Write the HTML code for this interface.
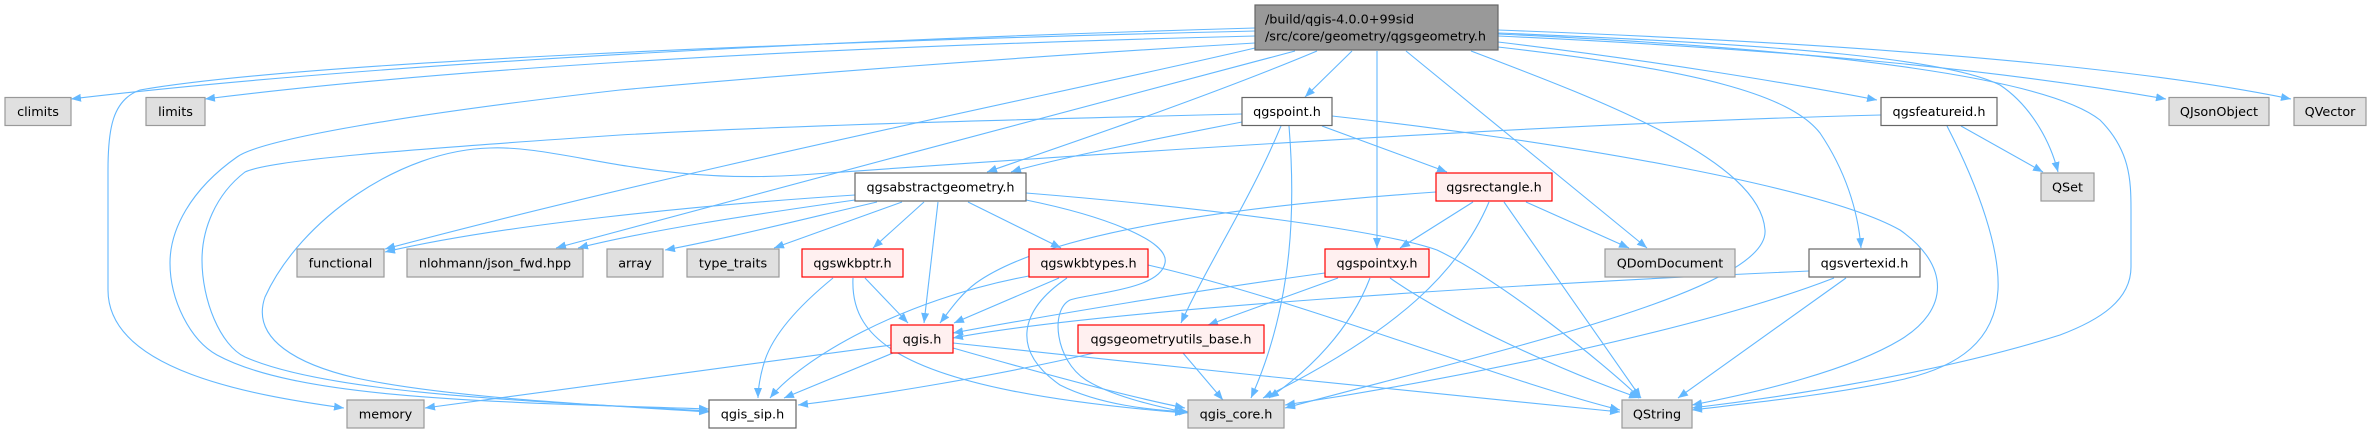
<!DOCTYPE html>
<html><head><meta charset="utf-8"><style>
html,body{margin:0;padding:0;background:#fff;}
svg{display:block;}
text{font-family:"DejaVu Sans","Liberation Sans",sans-serif;font-size:12.8px;fill:#000;}
.e{fill:none;stroke:#63b8ff;stroke-width:1.1;marker-end:url(#a);}
.g{fill:#e0e0e0;stroke:#999999;stroke-width:1.2;}
.w{fill:#ffffff;stroke:#666666;stroke-width:1.2;}
.r{fill:#fff0f0;stroke:#ff0000;stroke-width:1.2;}
.t{fill:#999999;stroke:#666666;stroke-width:1.2;}
</style></head><body>
<svg width="2372" height="434" viewBox="0 0 2372 434" xmlns="http://www.w3.org/2000/svg">
<defs>
<marker id="a" markerUnits="userSpaceOnUse" markerWidth="11" markerHeight="8" refX="10" refY="4" orient="auto">
<path d="M0,0 L10,4 L0,8 z" fill="#63b8ff"/>
</marker>
</defs>

<!-- edges from top node -->
<path class="e" d="M1255,28 C900,38 400,60 71,99"/>
<path class="e" d="M1255,36 C900,45 500,62 205,99"/>
<path class="e" d="M1255,31 C800,42 300,62 140,90 C112,100 108,130 108,170 L108,290 C108,370 250,395 344,408"/>
<path class="e" d="M1255,43 C1000,58 750,78 620,90 C400,115 260,140 237,157 C190,190 170,230 170,263 C170,300 190,340 217,355 C300,400 500,402 709,409"/>
<path class="e" d="M1255,48 C1100,85 700,165 385,249"/>
<path class="e" d="M1295,51 C1150,90 750,195 556,248"/>
<path class="e" d="M1317,51 C1200,100 1050,150 987,172"/>
<path class="e" d="M1352,51 L1305,97"/>
<path class="e" d="M1377,51 L1377,248"/>
<path class="e" d="M1406,51 L1647,248"/>
<path class="e" d="M1471,51 C1600,100 1760,160 1765,230 C1770,290 1500,350 1285,408"/>
<path class="e" d="M1498,42 C1650,60 1800,85 1877,100"/>
<path class="e" d="M1498,36 C1800,50 2000,70 2166,99"/>
<path class="e" d="M1498,30 C1900,45 2150,70 2291,99"/>
<path class="e" d="M1498,33 C1800,45 1950,60 2000,85 C2030,105 2050,140 2058,172"/>
<path class="e" d="M1498,34 C1850,50 2050,80 2100,120 C2130,150 2131,180 2131,210 L2131,267 C2131,300 2100,320 2060,335 C1950,370 1800,395 1692,408"/>
<path class="e" d="M1498,47 C1700,70 1790,95 1820,133 C1845,170 1858,210 1861,248"/>

<!-- qgspoint.h -->
<path class="e" d="M1242,114 C1000,120 800,125 620,135 C400,150 270,160 245,172 C215,195 202,230 202,260 C202,300 220,345 245,357 C330,395 550,402 709,411"/>
<path class="e" d="M1242,122 C1150,140 1050,160 1011,172"/>
<path class="e" d="M1322,126 L1447,172"/>
<path class="e" d="M1281,126 C1250,200 1210,260 1181,323"/>
<path class="e" d="M1289,126 C1295,200 1295,300 1251,398"/>
<path class="e" d="M1332,116 C1550,140 1820,185 1900,230 C1950,265 1950,310 1900,340 C1850,370 1760,392 1692,405"/>

<!-- qgsfeatureid.h -->
<path class="e" d="M1881,115 C1600,122 1220,145 800,175 C650,185 560,145 490,148 C400,150 300,220 265,297 C250,340 300,365 356,378 C450,398 600,405 709,412"/>
<path class="e" d="M1961,126 L2043,172"/>
<path class="e" d="M1947,126 C1980,190 2000,250 1998,290 C1995,340 1960,367 1900,380 C1830,395 1750,403 1692,410"/>

<!-- qgsabstractgeometry.h -->
<path class="e" d="M855,195 C700,205 500,225 385,252"/>
<path class="e" d="M855,200 C750,215 650,230 578,248"/>
<path class="e" d="M877,202 C800,220 720,240 665,250"/>
<path class="e" d="M902,202 L774,248"/>
<path class="e" d="M924,202 L873,248"/>
<path class="e" d="M938,202 L924,323"/>
<path class="e" d="M968,202 L1061,248"/>
<path class="e" d="M1026,193 C1200,207 1380,230 1437,250 C1500,280 1600,360 1640,398"/>
<path class="e" d="M1026,200 C1100,215 1170,240 1165,263 C1160,290 1090,293 1070,300 C1050,310 1055,360 1086,380 C1110,395 1150,405 1188,413"/>

<!-- qgsrectangle.h -->
<path class="e" d="M1436,192 C1250,205 1050,230 976,283 C960,295 950,310 940,323"/>
<path class="e" d="M1473,202 L1400,248"/>
<path class="e" d="M1526,202 L1629,248"/>
<path class="e" d="M1489,202 C1460,270 1400,330 1263,398"/>
<path class="e" d="M1504,202 L1641,398"/>

<!-- qgswkbptr.h -->
<path class="e" d="M865,278 L908,323"/>
<path class="e" d="M833,278 C800,305 774,333 765,360 C760,375 758,390 758,398"/>
<path class="e" d="M853,278 C850,340 900,390 1185,413"/>

<!-- qgswkbtypes.h -->
<path class="e" d="M1059,278 L954,323"/>
<path class="e" d="M1029,276 C900,300 800,360 770,398"/>
<path class="e" d="M1067,278 C1020,310 1010,350 1060,385 C1100,405 1150,410 1189,412"/>
<path class="e" d="M1148,265 C1300,300 1500,380 1620,410"/>

<!-- qgspointxy.h -->
<path class="e" d="M1325,273 C1200,290 1050,315 953,333"/>
<path class="e" d="M1338,278 L1208,325"/>
<path class="e" d="M1370,278 C1350,330 1310,370 1269,398"/>
<path class="e" d="M1390,278 C1450,320 1560,370 1639,398"/>

<!-- qgsvertexid.h -->
<path class="e" d="M1809,271 C1500,285 1100,310 953,338"/>
<path class="e" d="M1834,278 C1700,330 1450,380 1285,405"/>
<path class="e" d="M1846,278 L1678,398"/>

<!-- qgis.h -->
<path class="e" d="M891,345 C750,365 550,390 425,408"/>
<path class="e" d="M893,353 L784,398"/>
<path class="e" d="M953,348 C1030,370 1120,395 1185,408"/>
<path class="e" d="M953,343 C1150,365 1450,395 1620,412"/>

<!-- qgsgeometryutils_base.h -->
<path class="e" d="M1183,353 L1223,400"/>
<path class="e" d="M1094,353 C1000,375 880,395 798,405"/>

<!-- nodes -->
<rect class="t" x="1255" y="5" width="243" height="45"/>
<text x="1265" y="23.5">/build/qgis-4.0.0+99sid</text>
<text x="1265" y="40.5">/src/core/geometry/qgsgeometry.h</text>

<rect class="g" x="5" y="97.5" width="66" height="28"/><text x="38" y="116" text-anchor="middle">climits</text>
<rect class="g" x="146" y="97.5" width="59" height="28"/><text x="175.5" y="116" text-anchor="middle">limits</text>
<rect class="w" x="1242" y="97.5" width="90" height="28"/><text x="1287" y="116" text-anchor="middle">qgspoint.h</text>
<rect class="w" x="1881" y="97.5" width="116" height="28"/><text x="1939" y="116" text-anchor="middle">qgsfeatureid.h</text>
<rect class="g" x="2169" y="97.5" width="100" height="28"/><text x="2219" y="116" text-anchor="middle">QJsonObject</text>
<rect class="g" x="2294" y="97.5" width="72" height="28"/><text x="2330" y="116" text-anchor="middle">QVector</text>

<rect class="w" x="855" y="173" width="171" height="28"/><text x="940.5" y="191.5" text-anchor="middle">qgsabstractgeometry.h</text>
<rect class="r" x="1436" y="173" width="116" height="28"/><text x="1494" y="191.5" text-anchor="middle">qgsrectangle.h</text>
<rect class="g" x="2041" y="173" width="53" height="28"/><text x="2067.5" y="191.5" text-anchor="middle">QSet</text>

<rect class="g" x="297" y="249" width="87" height="28"/><text x="340.5" y="267.5" text-anchor="middle">functional</text>
<rect class="g" x="407" y="249" width="176" height="28"/><text x="495" y="267.5" text-anchor="middle">nlohmann/json_fwd.hpp</text>
<rect class="g" x="607" y="249" width="56" height="28"/><text x="635" y="267.5" text-anchor="middle">array</text>
<rect class="g" x="687" y="249" width="92" height="28"/><text x="733" y="267.5" text-anchor="middle">type_traits</text>
<rect class="r" x="802" y="249" width="101" height="28"/><text x="852.5" y="267.5" text-anchor="middle">qgswkbptr.h</text>
<rect class="r" x="1029" y="249" width="119" height="28"/><text x="1088.5" y="267.5" text-anchor="middle">qgswkbtypes.h</text>
<rect class="r" x="1325" y="249" width="104" height="28"/><text x="1377" y="267.5" text-anchor="middle">qgspointxy.h</text>
<rect class="g" x="1605" y="249" width="130" height="28"/><text x="1670" y="267.5" text-anchor="middle">QDomDocument</text>
<rect class="w" x="1809" y="249" width="111" height="28"/><text x="1864.5" y="267.5" text-anchor="middle">qgsvertexid.h</text>

<rect class="r" x="891" y="325" width="62" height="28"/><text x="922" y="343.5" text-anchor="middle">qgis.h</text>
<rect class="r" x="1078" y="325" width="186" height="28"/><text x="1171" y="343.5" text-anchor="middle">qgsgeometryutils_base.h</text>

<rect class="g" x="347" y="400" width="77" height="28"/><text x="385.5" y="418.5" text-anchor="middle">memory</text>
<rect class="w" x="709" y="400" width="87" height="28"/><text x="752.5" y="418.5" text-anchor="middle">qgis_sip.h</text>
<rect class="g" x="1188" y="400" width="96" height="28"/><text x="1236" y="418.5" text-anchor="middle">qgis_core.h</text>
<rect class="g" x="1622" y="400" width="70" height="28"/><text x="1657" y="418.5" text-anchor="middle">QString</text>
</svg>
</body></html>
